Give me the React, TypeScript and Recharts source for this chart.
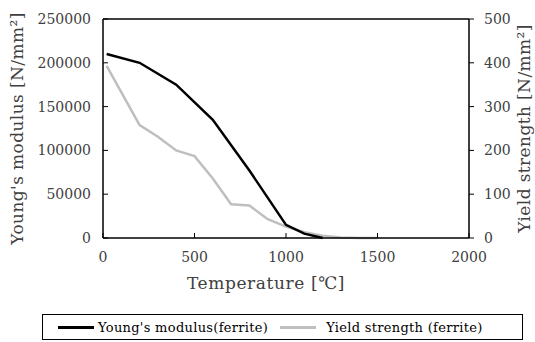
import React from "react";
import {
  LineChart,
  Line,
  XAxis,
  YAxis,
  ReferenceLine,
  Legend,
} from "recharts";

const temperatures = [20, 200, 300, 400, 500, 600, 700, 800, 900, 1000, 1100, 1200, 1300, 1400, 1500];
const youngsModulus = [210000, 200000, null, 175000, null, 135000, null, 77000, null, 15000, 5000, 0, null, null, null];
const yieldStrength = [393, 258, 231, 200, 187, 136, 77, 74, 43, 26, 13, 5, 1, 0, 0];
const xTicks = [0, 500, 1000, 1500, 2000];
const leftTicks = [0, 50000, 100000, 150000, 200000, 250000];
const rightTicks = [0, 100, 200, 300, 400, 500];

const FONT = "'DejaVu Serif', serif";
const TEXT = "#404040";

const chartData = temperatures.map((t, i) => ({
  temp: t,
  young: youngsModulus[i],
  yield: yieldStrength[i],
}));

// rotated axis title, placed at a given offset inside the axis box
const sideTitle = (text: string, dxFromAxisBox: number) => (props: any) => {
  const vb = props.viewBox || {};
  const cx = vb.x + dxFromAxisBox;
  const cy = vb.y + vb.height / 2;
  return (
    <text
      x={cx}
      y={cy}
      transform={`rotate(-90, ${cx}, ${cy})`}
      textAnchor="middle"
      dominantBaseline="central"
      fontSize={17}
      fontFamily={FONT}
      fill={TEXT}
      letterSpacing={0.4}
    >
      {text}
    </text>
  );
};

const bottomTitle = (text: string) => (props: any) => {
  const vb = props.viewBox || {};
  return (
    <text
      x={vb.x + vb.width / 2 - 20}
      y={vb.y + 45}
      textAnchor="middle"
      dominantBaseline="central"
      fontSize={17}
      fontFamily={FONT}
      fill={TEXT}
      letterSpacing={0.6}
    >
      {text}
    </text>
  );
};

const LegendBox = () => (
  <div style={{ height: 44, position: "relative" }}>
    <div
      style={{
        position: "absolute",
        left: 42,
        top: 16,
        width: 479,
        height: 24,
        border: "1.5px solid #000",
        display: "flex",
        alignItems: "center",
        fontFamily: FONT,
        fontSize: 13,
        color: "#000",
      }}
    >
      <span style={{ display: "inline-block", width: 36, height: 3, background: "#000", marginLeft: 15, marginRight: 4 }} />
      <span style={{ letterSpacing: 0.3 }}>Young's modulus(ferrite)</span>
      <span style={{ display: "inline-block", width: 36, height: 3, background: "#bfbfbf", marginLeft: 12, marginRight: 10 }} />
      <span style={{ letterSpacing: 0.3 }}>Yield strength (ferrite)</span>
    </div>
  </div>
);

const App: React.FC = () => {
  return (
    <div style={{ position: "absolute", left: 0, top: 0, background: "#fff" }}>
      <LineChart
        width={535}
        height={342}
        data={chartData}
        margin={{ top: 19, right: 0, bottom: 0, left: 0 }}
      >
        <XAxis
          dataKey="temp"
          type="number"
          domain={[0, 2000]}
          ticks={xTicks}
          height={60}
          axisLine={{ stroke: "#000", strokeWidth: 1.5 }}
          tickLine={{ stroke: "#000" }}
          tickSize={-5}
          tickMargin={19}
          tick={{ fontSize: 14, fill: TEXT, fontFamily: FONT }}
          label={{ content: bottomTitle("Temperature [℃]") }}
        />
        <YAxis
          yAxisId="left"
          domain={[0, 250000]}
          ticks={leftTicks}
          width={103}
          axisLine={{ stroke: "#000", strokeWidth: 1.5 }}
          tickLine={{ stroke: "#000" }}
          tickSize={-5}
          tickMargin={17}
          tick={{ fontSize: 14, fill: TEXT, fontFamily: FONT }}
          label={{ content: sideTitle("Young's modulus [N/mm²]", 17) }}
        />
        <YAxis
          yAxisId="right"
          orientation="right"
          domain={[0, 500]}
          ticks={rightTicks}
          width={66}
          axisLine={{ stroke: "#000", strokeWidth: 1.5 }}
          tickLine={{ stroke: "#000" }}
          tickSize={5}
          tickMargin={10}
          tick={{ fontSize: 14, fill: TEXT, fontFamily: FONT, textAnchor: "start" }}
          label={{ content: sideTitle("Yield strength [N/mm²]", 55) }}
        />
        <ReferenceLine yAxisId="left" y={250000} stroke="#000" strokeWidth={1.5} />
        <Legend verticalAlign="bottom" content={() => <LegendBox />} />
        <Line
          yAxisId="right"
          dataKey="yield"
          type="linear"
          stroke="#bfbfbf"
          strokeWidth={2.5}
          dot={false}
          isAnimationActive={false}
        />
        <Line
          yAxisId="left"
          dataKey="young"
          type="linear"
          stroke="#000"
          strokeWidth={2.5}
          dot={false}
          connectNulls
          isAnimationActive={false}
        />
      </LineChart>
    </div>
  );
};

export default App;
